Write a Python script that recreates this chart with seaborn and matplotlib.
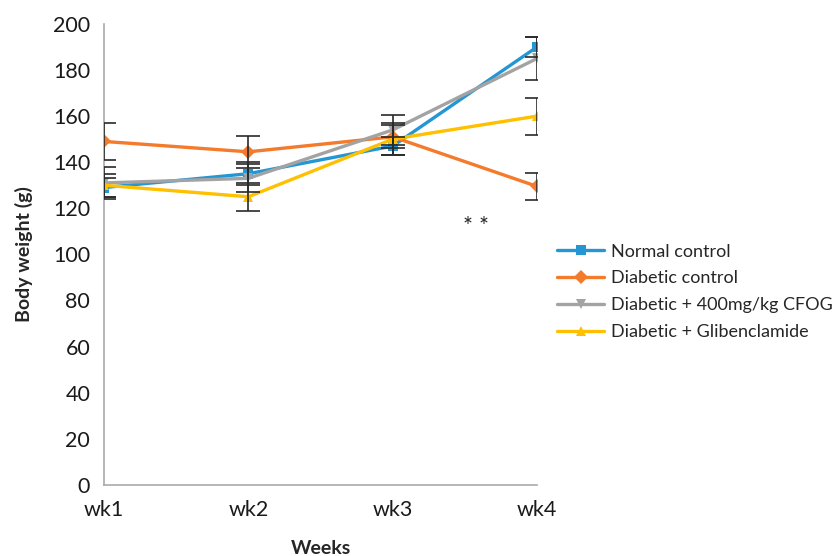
import matplotlib
matplotlib.use("Agg")
import matplotlib.pyplot as plt
import seaborn as sns
import pandas as pd
import numpy as np

weeks = ["wk1", "wk2", "wk3", "wk4"]
groups = ["Normal control", "Diabetic control",
          "Diabetic + 400mg/kg CFOG", "Diabetic + Glibenclamide"]
normal_control = [129, 135, 147, 190]
diabetic_control = [149, 144.5, 151, 129.5]
diabetic_cfog = [131, 133, 154, 185]
diabetic_glib = [130, 125, 150, 160]
normal_err = [4, 5, 4, 4.5]
diabetic_err = [8, 7, 5, 6]
cfog_err = [7, 6, 6.5, 9.5]
glib_err = [5, 6, 7, 8]

series = [normal_control, diabetic_control, diabetic_cfog, diabetic_glib]
errors = [normal_err, diabetic_err, cfog_err, glib_err]

rows = []
for g, vals, errs in zip(groups, series, errors):
    for i, (w, v, e) in enumerate(zip(weeks, vals, errs)):
        rows.append({"Weeks": w, "x": i, "Body weight (g)": v, "err": e, "Group": g})
df = pd.DataFrame(rows)

colors = ["#2596D4", "#F47A2C", "#A3A3A3", "#FFC000"]
markers = ["s", "D", "v", "^"]
palette = dict(zip(groups, colors))
marker_map = dict(zip(groups, markers))

sns.set_style("white")
plt.rcParams["font.family"] = ["Lato", "DejaVu Sans"]

fig = plt.figure(figsize=(8.37, 5.56), dpi=100)
ax = fig.add_axes([0.1243, 0.128, 0.5173, 0.829])

sns.lineplot(data=df, x="x", y="Body weight (g)", hue="Group", style="Group",
             palette=palette, markers=marker_map, dashes=False,
             linewidth=2.4, markersize=7, markeredgewidth=0,
             ax=ax, legend=False, zorder=3)

for g in groups:
    sub = df[df["Group"] == g]
    ax.errorbar(sub["x"], sub["Body weight (g)"], yerr=sub["err"], fmt="none",
                ecolor="#2a2a2a", elinewidth=1.2, capsize=8.5, capthick=1.2, zorder=4)

# significance marker for week 4
ax.text(2.58, 112, "* *", ha="center", va="center", fontsize=17, color="#222222")

ax.set_xlim(0, 3)
ax.set_ylim(0, 200)
ax.set_yticks(range(0, 201, 20))
ax.set_xticks(range(4))
ax.set_xticklabels(weeks)
ax.set_xlabel("Weeks", fontsize=14, fontweight="bold", labelpad=14)
ax.set_ylabel("Body weight (g)", fontsize=14, fontweight="bold", labelpad=14)

for side in ["top", "right"]:
    ax.spines[side].set_visible(False)
for side in ["left", "bottom"]:
    ax.spines[side].set_color("#AAAAAA")
    ax.spines[side].set_linewidth(1.2)
ax.tick_params(axis="both", which="major", direction="out", length=6, width=1.2,
               color="#AAAAAA", labelsize=15.5, labelcolor="#1a1a1a")
ax.tick_params(axis="y", pad=4)
ax.tick_params(axis="x", pad=5)
for lbl in ax.get_xticklabels() + ax.get_yticklabels():
    lbl.set_clip_on(False)

handles = [plt.Line2D([0], [0], color=c, marker=m, linewidth=2.4, markersize=7.5,
                      markeredgewidth=0) for c, m in zip(colors, markers)]
fig.legend(handles, groups, loc="upper left", bbox_to_anchor=(0.657, 0.575),
           frameon=False, fontsize=13, handlelength=2.6, handletextpad=0.4,
           labelspacing=0.6, borderaxespad=0)

fig.savefig("out.png", dpi=100)
